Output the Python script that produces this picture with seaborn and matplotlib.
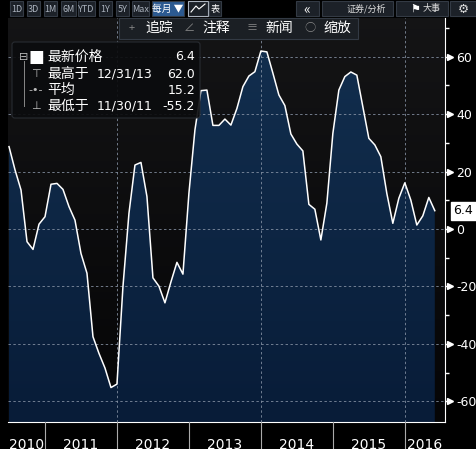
import numpy as np
import pandas as pd
import matplotlib
matplotlib.use("Agg")
import matplotlib.pyplot as plt
from matplotlib.patches import Rectangle, FancyBboxPatch
import seaborn as sns

values = [28.7, 20.6, 13.6, -4.4, -7.1, 1.7, 4.3, 15.6, 15.9, 13.8, 7.8, 3.1,
          -8.5, -15.4, -37.5, -43.3, -48.4, -55.2, -54.0, -20.0, 5.5, 22.3, 23.2, 11.3,
          -17.0, -19.9, -25.7, -18.4, -11.6, -15.7, 12.5, 34.5, 48.2, 48.4, 36.1, 36.1,
          38.3, 36.2, 42.0, 49.6, 53.3, 54.8, 62.0, 61.7, 54.3, 46.7, 43.0, 33.1,
          29.6, 27.2, 8.6, 6.9, -3.8, 9.0, 33.3, 48.4, 53.1, 54.7, 53.6, 42.6,
          31.6, 29.3, 25.2, 12.4, 2.0, 10.7, 16.1, 10.1, 1.4, 4.6, 11.0, 6.4]
years = ["2010", "2011", "2012", "2013", "2014", "2015", "2016"]
yticks = [60, 40, 20, 0, -20, -40, -60]
legend_rows = [("最新价格", "", "6.4"), ("最高于", "12/31/13", "62.0"),
               ("平均", "", "15.2"), ("最低于", "11/30/11", "-55.2")]

plt.rcParams['font.family'] = ['Noto Sans CJK SC', 'DejaVu Sans']
df = pd.DataFrame({"m": np.arange(len(values)), "v": values})

W, H = 477, 449
fig = plt.figure(figsize=(W / 100, H / 100), dpi=100, facecolor="black")
ax = fig.add_axes([8 / W, 27 / H, 437 / W, 404 / H])
xmin, xmax = -0.17, 72.7
ymin, ymax = -67.2, 73.5
ax.set_xlim(xmin, xmax)
ax.set_ylim(ymin, ymax)

bg = np.linspace(0, 1, 256).reshape(-1, 1)
ax.imshow(np.dstack([0.08 - 0.06 * bg, 0.08 - 0.06 * bg, 0.085 - 0.06 * bg]),
          extent=[xmin, xmax, ymin, ymax], aspect="auto", zorder=0, origin="upper")
top = np.array([0x13, 0x30, 0x50]) / 255
bot = np.array([0x08, 0x1c, 0x38]) / 255
grad = top[None, :] * (1 - bg) + bot[None, :] * bg
im = ax.imshow(grad.reshape(256, 1, 3), extent=[xmin, xmax, ymin, ymax],
               aspect="auto", zorder=1, origin="upper")
poly = ax.fill_between(df["m"], df["v"], ymin, color="none", lw=0)
im.set_clip_path(poly.get_paths()[0], transform=ax.transData)

sns.lineplot(data=df, x="m", y="v", ax=ax, color="white", lw=1.1, zorder=3)

for yv in yticks:
    ax.axhline(yv, color="#8a96a8", lw=0.7, ls=(0, (2.5, 2.5)), zorder=2, alpha=0.8)
for xv in [18, 42, 66]:
    ax.axvline(xv, color="#8a96a8", lw=0.7, ls=(0, (2.5, 2.5)), zorder=2, alpha=0.8)

ax.set_xlabel("")
ax.set_ylabel("")
ax.set_xticks([])
ax.yaxis.tick_right()
ax.set_yticks(yticks)
ax.set_yticklabels([str(t) for t in yticks], color="white", fontsize=9,
                   family="DejaVu Sans")
ax.set_yticks(np.arange(-60, 71, 10), minor=True)
ax.tick_params(axis="y", which="both", colors="white", length=3, width=1, pad=5)
ax.tick_params(axis="y", labelcolor="white")
for s in ["top", "left"]:
    ax.spines[s].set_visible(False)
ax.spines["right"].set_color("white")
ax.spines["bottom"].set_color("white")
for yv in yticks:
    ax.plot(xmax + 0.8, yv, marker=">", color="white", ms=4, clip_on=False, zorder=5)

ax.text(xmax + 1.4, values[-1], f"{values[-1]}", color="black", fontsize=9,
        va="center", ha="left", family="DejaVu Sans",
        bbox=dict(boxstyle="square,pad=0.2", fc="white", ec="white"), clip_on=False)

sep_x = [6, 18, 30, 42, 54, 66]
for sx in sep_x:
    fx = (8 + (sx - xmin) / (xmax - xmin) * 437) / W
    fig.add_artist(plt.Line2D([fx, fx], [0, 27 / H], color="#aaaaaa", lw=0.8))
bounds = [xmin] + sep_x + [xmax]
for i, yr in enumerate(years):
    cx = (bounds[i] + bounds[i + 1]) / 2
    fx = (8 + (cx - xmin) / (xmax - xmin) * 437) / W
    fig.text(fx, -3 / H, yr, color="white", fontsize=10, ha="center", va="bottom",
             family="DejaVu Sans")

def box(x0, y0, w, h, fc, ec="#333a44"):
    fig.add_artist(Rectangle((x0 / W, 1 - (y0 + h) / H), w / W, h / H,
                             fc=fc, ec=ec, lw=0.8, transform=fig.transFigure))

def ftext(x, y, s, **kw):
    fig.text(x / W, 1 - y / H, s, va="center", **kw)

btns = [("1D", 10, 13), ("3D", 27, 13), ("1M", 44, 13), ("6M", 61, 15),
        ("YTD", 78, 17), ("1Y", 99, 13), ("5Y", 116, 13), ("Max", 132, 17)]
for lab, x0, w in btns:
    box(x0, 1, w, 15, "#1c2128")
    ftext(x0 + w / 2, 9, lab, color="#aab2bd", fontsize=6.5, ha="center")
box(152, 1, 32, 15, "#2c5a91")
ftext(168, 9, "每月 ▼", color="white", fontsize=7, ha="center")
box(188, 1, 20, 15, "#1c2128", ec="#aab2bd")
fig.add_artist(plt.Line2D(np.array([191, 196, 199, 205]) / W,
                          1 - np.array([12, 6, 9, 4]) / H, color="white", lw=0.8))
box(209, 1, 12, 15, "#1c2128")
ftext(215, 9, "表", color="white", fontsize=6.5, ha="center")
box(296, 1, 23, 15, "#1c2128")
ftext(307, 9, "«", color="white", fontsize=10, ha="center")
box(322, 1, 71, 15, "#1c2128")
ftext(366, 9, "证券/分析", color="#dddddd", fontsize=6.5, ha="center")
box(396, 1, 52, 15, "#1c2128")
ftext(415, 9, "⚑", color="white", fontsize=8, ha="center")
ftext(432, 9, "大事", color="#dddddd", fontsize=6.5, ha="center")
box(450, 1, 26, 15, "#1c2128")
ftext(463, 9, "⚙", color="#dddddd", fontsize=9, ha="center")

box(119, 18, 239, 21, "#1b1f24")
for lab, ic, x0 in [("追踪", "+", 125), ("注释", "∠", 182), ("新闻", "≡", 245),
                    ("缩放", "○", 303)]:
    ftext(x0 + 7, 28, ic, color="#888888", fontsize=8, ha="center")
    ftext(x0 + 20, 28, lab, color="white", fontsize=10, ha="left")

fig.add_artist(FancyBboxPatch((12 / W, 1 - 118 / H), 188 / W, 76 / H,
                              boxstyle="round,pad=0,rounding_size=0.006",
                              fc="#0b0c0e", ec="#2a2e34", lw=0.8, alpha=0.92,
                              transform=fig.transFigure))
ry = [57, 74, 90, 106]
icons = ["■", "⊤", "-•-", "⊥"]
for (lab, dt, val), y, ic in zip(legend_rows, ry, icons):
    ftext(47, y, lab, color="white", fontsize=10, ha="left")
    if dt:
        ftext(97, y, dt, color="white", fontsize=9, ha="left", family="DejaVu Sans")
    ftext(195, y, val, color="white", fontsize=9, ha="right", family="DejaVu Sans")
    ftext(36, y, ic, color="white" if ic == "■" else "#bbbbbb",
          fontsize=12 if ic == "■" else 8, ha="center", family="DejaVu Sans")
ftext(24, 57, "⊟", color="#bbbbbb", fontsize=8, ha="center", family="DejaVu Sans")
fig.add_artist(plt.Line2D([24 / W, 24 / W], [1 - 61 / H, 1 - 106 / H], color="#888888", lw=0.7))

fig.savefig("out.png", dpi=100, facecolor="black")
